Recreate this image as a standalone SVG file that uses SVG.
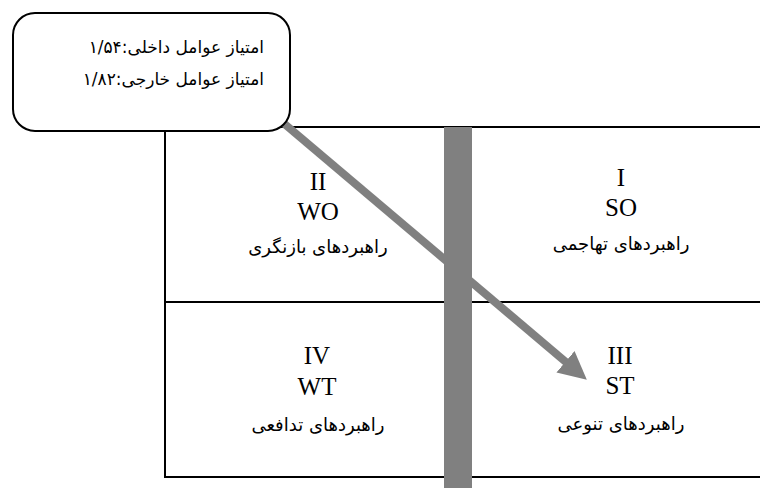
<svg xmlns="http://www.w3.org/2000/svg" width="760" height="488" viewBox="0 0 760 488">
<style>
.ln{stroke:#000;stroke-width:2;fill:none}
.lat{font-family:"Liberation Serif","Times New Roman",serif;font-size:25px;fill:#000;text-anchor:middle}
.fa{font-family:"DejaVu Sans",sans-serif;font-size:18px;fill:#000;text-anchor:middle}
.fa2{font-family:"DejaVu Sans",sans-serif;font-size:17px;fill:#000;text-anchor:end}
</style>
<defs>
<marker id="ah" markerUnits="userSpaceOnUse" markerWidth="30" markerHeight="30" refX="2" refY="15" orient="auto">
<polygon points="0,1 28,15 0,29" fill="#808080"/>
</marker>
</defs>
<rect width="760" height="488" fill="#fff"/>
<g id="grid">
<line class="ln" x1="165" y1="127" x2="760" y2="127"/>
<line class="ln" x1="165" y1="302" x2="760" y2="302"/>
<line class="ln" x1="165" y1="477" x2="760" y2="477"/>
<line class="ln" x1="165" y1="126" x2="165" y2="478"/>
<rect x="444" y="127" width="28" height="361" fill="#808080"/>
</g>
<g id="connectors">
<line x1="268" y1="110" x2="567" y2="363" stroke="#808080" stroke-width="8" marker-end="url(#ah)"/>
</g>
<g id="q2">
<text class="lat" x="318" y="190">II</text>
<text class="lat" x="318" y="220">WO</text>
<text class="fa" x="318" y="253">راهبردهای بازنگری</text>
</g>
<g id="q1">
<text class="lat" x="621" y="186">I</text>
<text class="lat" x="621" y="216">SO</text>
<text class="fa" x="621" y="250">راهبردهای تهاجمی</text>
</g>
<g id="q4">
<text class="lat" x="317" y="364">IV</text>
<text class="lat" x="317" y="395">WT</text>
<text class="fa" x="318" y="431">راهبردهای تدافعی</text>
</g>
<g id="q3">
<text class="lat" x="620" y="364">III</text>
<text class="lat" x="620" y="394">ST</text>
<text class="fa" x="621" y="430">راهبردهای تنوعی</text>
</g>
<g id="callout">
<rect x="13" y="13" width="277" height="118" rx="22" ry="22" fill="#fff" stroke="#000" stroke-width="2"/>
<text class="fa2" x="264" y="53">امتیاز عوامل داخلی:۱/۵۴</text>
<text class="fa2" x="264" y="85">امتیاز عوامل خارجی:۱/۸۲</text>
</g>
</svg>
